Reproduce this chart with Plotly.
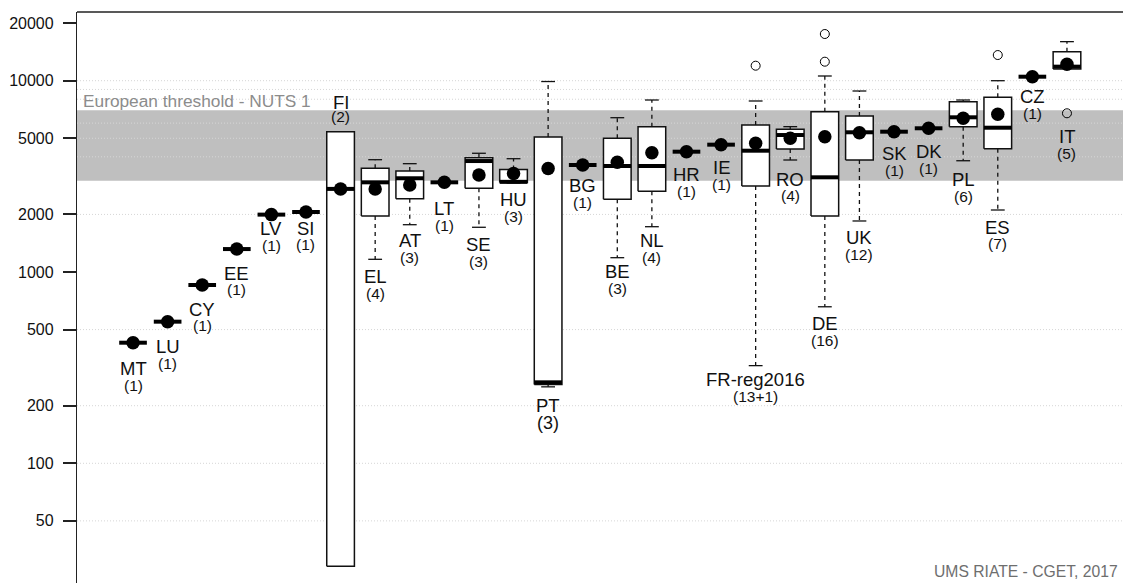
import numpy as np
import plotly.graph_objects as go

# ---------------- data ----------------
countries = ["MT", "LU", "CY", "EE", "LV", "SI", "FI", "EL", "AT", "LT", "SE", "HU", "PT", "BG",
             "BE", "NL", "HR", "IE", "FR-reg2016", "RO", "DE", "UK", "SK", "DK", "PL", "ES", "CZ", "IT"]
counts = ["(1)", "(1)", "(1)", "(1)", "(1)", "(1)", "(2)", "(4)", "(3)", "(1)", "(3)", "(3)", "(3)", "(1)",
          "(3)", "(4)", "(1)", "(1)", "(13+1)", "(4)", "(16)", "(12)", "(1)", "(1)", "(6)", "(7)", "(1)", "(5)"]

whisker_low = [427, 550, 855, 1318, 1995, 2059, 29, 1165, 1767, 2943, 1713, 2920, 251, 3626,
               1188, 1725, 4255, 4630, 324, 3850, 658, 1848, 5413, 5640, 3816, 2109, 10493, 11510]
q1 = [427, 550, 855, 1318, 1995, 2059, 29, 1963, 2416, 2943, 2738, 2940, 258, 3626,
      2399, 2641, 4255, 4630, 2815, 4395, 1963, 3850, 5413, 5640, 5747, 4411, 10493, 11510]
median = [427, 550, 855, 1318, 1995, 2059, 2719, 2943, 3090, 2943, 3802, 2960, 265, 3626,
          3581, 3581, 4255, 4630, 4306, 5200, 3126, 5375, 5413, 5640, 6436, 5679, 10493, 11840]
q3 = [427, 550, 855, 1318, 1995, 2059, 5410, 3483, 3373, 2943, 3959, 3430, 5080, 3626,
      5000, 5747, 4255, 4630, 5867, 5570, 6887, 6540, 5413, 5640, 7765, 8186, 10493, 14180]
whisker_high = [427, 550, 855, 1318, 1995, 2059, 5410, 3864, 3683, 2943, 4175, 3910, 9900, 3626,
                6406, 7927, 4255, 4630, 7833, 5750, 10582, 8834, 5413, 5640, 7927, 10000, 10493, 16000]
means = [427, 550, 855, 1318, 1995, 2059, 2719, 2716, 2850, 2943, 3214, 3270, 3472, 3626,
         3745, 4204, 4255, 4630, 4708, 5000, 5097, 5350, 5413, 5640, 6360, 6674, 10493, 12200]
outlier_country = ["FR-reg2016", "DE", "DE", "ES", "IT"]
outlier_value = [11979, 12569, 17540, 13620, 6755]

threshold_low, threshold_high = 3000, 7000
threshold_label = "European threshold - NUTS 1"
tick_values = [50, 100, 200, 500, 1000, 2000, 5000, 10000, 20000]
grid_values = [50, 100, 200, 500, 2000, 4000, 5000, 6000, 8000, 9000, 10000]
credit = "UMS RIATE - CGET, 2017"

# ---------------- layout / styling ----------------
label_above = {"FI"}
label_gap = [26, 25, 24, 24, 14, 16, 29, 17, 16, 26, 17, 17, 19, 21,
             14, 14, 23, 23, 14, 19, 17, 17, 22, 23, 19, 17, 20, 23]
FONT = "Liberation Sans, Arial, Helvetica, sans-serif"
n = len(countries)
pos = np.arange(1, n + 1)
x_lo, x_hi = 0.5 - 0.04 * n, n + 0.5 + 0.04 * n
half = 0.4
cap = 0.2
y_top, y_bot = 4.3591, 1.3743

fig = go.Figure()

# threshold band
fig.add_trace(go.Scatter(x=[x_lo, x_hi, x_hi, x_lo, x_lo],
                         y=[threshold_low, threshold_low, threshold_high, threshold_high, threshold_low],
                         fill="toself", fillcolor="#bfbfbf", line=dict(width=0),
                         mode="lines", hoverinfo="skip", showlegend=False))

# grid lines
gx, gy = [], []
for g in grid_values:
    gx += [x_lo, x_hi, None]
    gy += [g, g, None]
fig.add_trace(go.Scatter(x=gx, y=gy, mode="lines", line=dict(color="#d6d6d6", width=1, dash="1px,2px"),
                         hoverinfo="skip", showlegend=False))

# whiskers (dashed) and staples
wx, wy, sx, sy = [], [], [], []
for i in range(n):
    p = pos[i]
    if whisker_high[i] > q3[i]:
        wx += [p, p, None]; wy += [q3[i], whisker_high[i], None]
        sx += [p - cap, p + cap, None]; sy += [whisker_high[i], whisker_high[i], None]
    if whisker_low[i] < q1[i]:
        wx += [p, p, None]; wy += [q1[i], whisker_low[i], None]
        sx += [p - cap, p + cap, None]; sy += [whisker_low[i], whisker_low[i], None]
fig.add_trace(go.Scatter(x=wx, y=wy, mode="lines", line=dict(color="#111", width=1.3, dash="4px,4px"),
                         hoverinfo="skip", showlegend=False))
fig.add_trace(go.Scatter(x=sx, y=sy, mode="lines", line=dict(color="#111", width=1.3),
                         hoverinfo="skip", showlegend=False))

# boxes
bx, by = [], []
for i in range(n):
    if q3[i] > q1[i]:
        p = pos[i]
        bx += [p - half, p + half, p + half, p - half, p - half, None]
        by += [q1[i], q1[i], q3[i], q3[i], q1[i], None]
fig.add_trace(go.Scatter(x=bx, y=by, mode="lines", fill="toself", fillcolor="white",
                         line=dict(color="#111", width=1.5), hoverinfo="skip", showlegend=False))

# medians
mx, my = [], []
for i in range(n):
    mx += [pos[i] - half, pos[i] + half, None]
    my += [median[i], median[i], None]
fig.add_trace(go.Scatter(x=mx, y=my, mode="lines", line=dict(color="black", width=4),
                         hoverinfo="skip", showlegend=False))

# outliers
ox = [pos[countries.index(c)] for c in outlier_country]
fig.add_trace(go.Scatter(x=ox, y=outlier_value, mode="markers",
                         marker=dict(symbol="circle-open", size=9, color="black", line=dict(width=1)),
                         hoverinfo="skip", showlegend=False))

# means
fig.add_trace(go.Scatter(x=pos, y=means, mode="markers",
                         marker=dict(symbol="circle", size=13.5, color="black"),
                         hoverinfo="skip", showlegend=False))

# labels
annotations = []
for i, c in enumerate(countries):
    big = (c == "PT")
    if c in label_above:
        anchor = whisker_high[i]
        name_shift, count_shift = label_gap[i], label_gap[i] - 14
    else:
        low = [whisker_low[i]] + [v for oc, v in zip(outlier_country, outlier_value) if oc == c]
        anchor = min(low)
        name_shift, count_shift = -label_gap[i], -(label_gap[i] + (17.5 if big else 16.8))
    annotations.append(dict(x=pos[i], y=np.log10(anchor), xref="x", yref="y", text=c,
                            showarrow=False, yshift=name_shift, xanchor="center", yanchor="middle",
                            font=dict(family=FONT, size=18.5, color="#111")))
    annotations.append(dict(x=pos[i], y=np.log10(anchor), xref="x", yref="y", text=counts[i],
                            showarrow=False, yshift=count_shift, xanchor="center", yanchor="middle",
                            font=dict(family=FONT, size=18 if big else 15.5, color="#111")))

annotations.append(dict(x=x_lo, y=np.log10(threshold_high), xref="x", yref="y", text=threshold_label,
                        showarrow=False, xanchor="left", yanchor="middle", xshift=4, yshift=9,
                        font=dict(family=FONT, size=17.3, color="#8c8c8c")))
annotations.append(dict(x=1, y=0, xref="paper", yref="paper", text=credit, showarrow=False,
                        xanchor="right", yanchor="bottom", xshift=-3, yshift=1,
                        font=dict(family=FONT, size=15.7, color="#6e6e6e")))

fig.update_layout(
    width=1123, height=583,
    margin=dict(l=77, r=0, t=12, b=0, pad=0),
    paper_bgcolor="white", plot_bgcolor="white",
    showlegend=False,
    annotations=annotations,
    shapes=[dict(type="line", xref="paper", yref="paper", x0=0, x1=1, y0=1, y1=1,
                 line=dict(color="#222", width=1.5))],
)
fig.update_xaxes(range=[x_lo, x_hi], showgrid=False, zeroline=False, showticklabels=False,
                 ticks="", showline=False)
fig.update_yaxes(type="log", range=[y_bot, y_top], tickvals=tick_values,
                 ticktext=[str(v) for v in tick_values], showgrid=False, zeroline=False,
                 showline=True, linecolor="#222", linewidth=1.3,
                 ticks="outside", ticklen=13, tickwidth=1.5, tickcolor="#222",
                 tickfont=dict(family=FONT, size=16, color="#111"), ticklabelstandoff=6)

page_fix = ("document.body.style.margin='0';"
            "document.body.style.overflow='hidden';"
            "document.documentElement.style.overflow='hidden';")
fig.write_html("out.html", post_script=page_fix, config={"displayModeBar": False})
